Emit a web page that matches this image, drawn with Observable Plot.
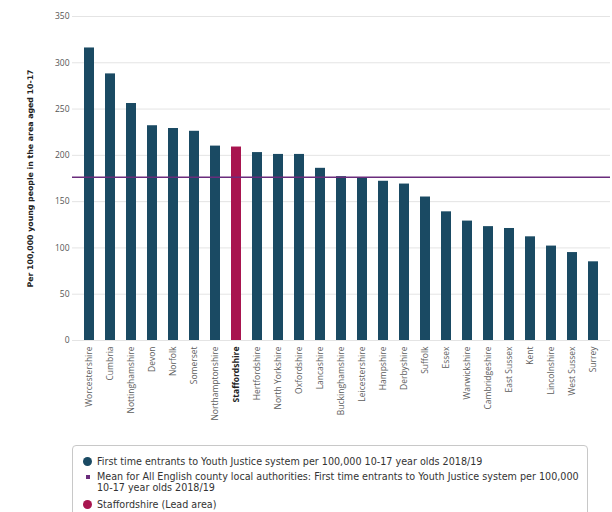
<!DOCTYPE html>
<html>
<head>
<meta charset="utf-8">
<script src="https://cdn.jsdelivr.net/npm/d3@7"></script>
<script src="https://cdn.jsdelivr.net/npm/@observablehq/plot@0.6"></script>
<style>
  html, body { margin: 0; padding: 0; background: #fff; }
  #chart { width: 612px; }
  .legend {
    margin-left: 72px; width: 498px; margin-top: 1px;
    border: 1px solid #c8c8c8; border-radius: 4px;
    padding: 10px 8px 10px 8px;
    font-family: "DejaVu Sans", sans-serif; font-size: 9.6px; color: #333;
  }
  .item { display: flex; align-items: flex-start; margin-bottom: 4px; line-height: 11px; }
  .item.m2 { margin-bottom: 6px; }
  .sw { flex: 0 0 16px; height: 11px; position: relative; }
  .dot { position: absolute; left: 2px; top: 1px; width: 9px; height: 9px; border-radius: 50%; }
  .sq { position: absolute; left: 5px; top: 4px; width: 4px; height: 4px; }
</style>
</head>
<body>
<div id="chart"></div>
<script>
const categories = ["Worcestershire","Cumbria","Nottinghamshire","Devon","Norfolk","Somerset","Northamptonshire","Staffordshire","Hertfordshire","North Yorkshire","Oxfordshire","Lancashire","Buckinghamshire","Leicestershire","Hampshire","Derbyshire","Suffolk","Essex","Warwickshire","Cambridgeshire","East Sussex","Kent","Lincolnshire","West Sussex","Surrey"];
const values = [316, 288, 256, 232, 229, 226, 210, 209, 203, 201, 201, 186, 177, 176, 172, 169, 155, 139, 129, 123, 121, 112, 102, 95, 85];
const meanValue = 176.3;
const leadArea = "Staffordshire";
const yTicks = [0, 50, 100, 150, 200, 250, 300, 350];
const seriesLabel = "First time entrants to Youth Justice system per 100,000 10-17 year olds 2018/19";
const meanLabel = "Mean for All English county local authorities: First time entrants to Youth Justice system per 100,000 10-17 year olds 2018/19";
const leadLabel = "Staffordshire (Lead area)";
const yLabel = "Per 100,000 young people in the area aged 10-17";

const barColor = "#1a4a63";
const leadColor = "#a8154f";
const meanColor = "#6a2c7c";

const data = categories.map((c, i) => ({name: c, value: values[i]}));

const plot = Plot.plot({
  width: 612,
  height: 444,
  marginTop: 16,
  marginBottom: 104,
  marginLeft: 72,
  marginRight: 2,
  style: {fontFamily: "'Open Sans', sans-serif", fontSize: "8.5px", color: "#555", background: "#fff"},
  x: {domain: categories, padding: 0.52, label: null},
  y: {domain: [0, 350], ticks: yTicks, label: null},
  marks: [
    Plot.gridY(yTicks, {stroke: "#e4e4e4", strokeOpacity: 1}),
    Plot.axisY({ticks: yTicks, tickSize: 0, tickPadding: 3, label: null, fill: "#555"}),
    Plot.axisX({tickSize: 0, tickPadding: 6, tickRotate: -90, label: null, fill: "#5c5c5c"}),
    Plot.barY(data, {x: "name", y: "value", fill: d => d.name === leadArea ? leadColor : barColor}),
    Plot.ruleY([meanValue], {stroke: meanColor, strokeWidth: 1.5}),
    Plot.text([yLabel], {frameAnchor: "left", textAnchor: "middle", dx: -42, rotate: -90, fontWeight: "bold", fontSize: 7.8, fill: "#222", fontFamily: "'DejaVu Sans', sans-serif"})
  ]
});

d3.select(plot).selectAll("text").filter(function() { return this.textContent === leadArea; })
  .attr("font-weight", "bold").attr("fill", "#222");

document.getElementById("chart").appendChild(plot);

const legend = document.createElement("div");
legend.className = "legend";
legend.innerHTML = `
  <div class="item"><span class="sw"><span class="dot" style="background:${barColor}"></span></span><span>${seriesLabel}</span></div>
  <div class="item m2"><span class="sw"><span class="sq" style="background:${meanColor}"></span></span><span>${meanLabel}</span></div>
  <div class="item"><span class="sw"><span class="dot" style="background:${leadColor}"></span></span><span>${leadLabel}</span></div>`;
document.getElementById("chart").appendChild(legend);
</script>
</body>
</html>
